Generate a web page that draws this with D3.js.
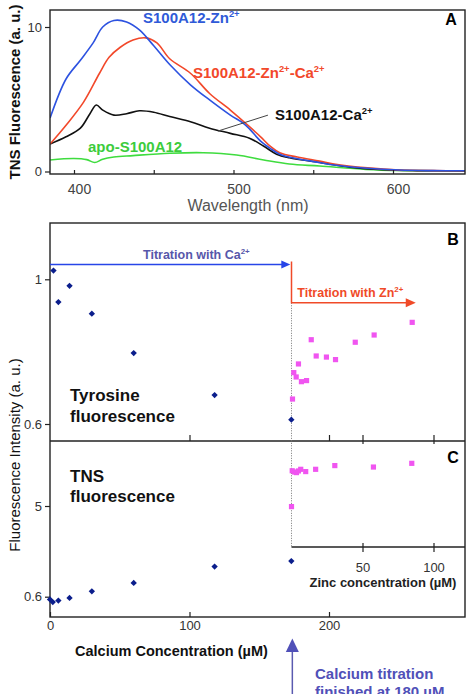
<!DOCTYPE html>
<html>
<head>
<meta charset="utf-8">
<script src="https://cdn.jsdelivr.net/npm/d3@7"></script>
<style>
  body { margin: 0; background: #fff; }
  svg { display: block; font-family: "Liberation Sans", Arial, sans-serif; }
</style>
</head>
<body>
<div id="chart"></div>
<script>
// ---- panel A : TNS spectra (wavelength nm, fluorescence a.u.)
const wlZn = [385, 395, 404, 412, 418, 425, 433, 441, 450, 460, 473, 485, 498, 506, 510, 517, 523, 529, 540, 554, 563, 584, 604, 625, 646];
const valZn = [3.7, 6.4, 7.7, 8.9, 10.0, 10.45, 10.35, 9.8, 8.7, 7.4, 6.0, 4.95, 3.9, 3.35, 2.95, 2.1, 1.6, 1.2, 0.88, 0.62, 0.45, 0.22, 0.1, 0.06, 0.05];

const wlZnCa = [385, 395, 406, 416, 422, 429, 437, 445, 452, 460, 473, 485, 498, 510, 517, 523, 529, 540, 554, 563, 584, 604, 625, 646];
const valZnCa = [1.9, 3.2, 4.8, 6.8, 7.9, 8.6, 9.1, 9.25, 8.9, 7.8, 6.8, 5.4, 4.25, 3.1, 2.4, 1.75, 1.3, 1.0, 0.72, 0.52, 0.25, 0.1, 0.06, 0.05];

const wlCa = [385, 395, 404, 410, 414, 418, 425, 433, 441, 450, 460, 473, 485, 498, 510, 519, 527, 535, 554, 573, 594, 615, 646];
const valCa = [1.9, 2.4, 3.0, 4.0, 4.6, 4.25, 3.9, 4.0, 4.2, 4.1, 3.8, 3.45, 3.0, 2.64, 2.3, 1.75, 1.2, 0.95, 0.62, 0.3, 0.12, 0.06, 0.04];

const wlApo = [385, 400, 408, 413, 418, 425, 437, 460, 481, 502, 519, 535, 554, 583, 604, 646];
const valApo = [0.8, 0.9, 0.82, 0.62, 0.85, 1.0, 1.1, 1.26, 1.3, 1.14, 0.8, 0.52, 0.38, 0.15, 0.07, 0.04];

const wlTicks = [400, 450, 500, 550, 600];
const tnsTicks = [0, 10];

// ---- panel B : tyrosine fluorescence
const caB = [2.5, 6, 14, 30, 60, 118, 173];
const tyrCa = [1.024, 0.937, 0.982, 0.905, 0.796, 0.68, 0.612];
const znB = [0.7, 1.6, 3.3, 4.9, 7, 10.6, 13.9, 17.4, 24.6, 31, 44.9, 58.2, 85];
const tyrZn = [0.669, 0.742, 0.730, 0.766, 0.717, 0.720, 0.833, 0.788, 0.785, 0.778, 0.826, 0.846, 0.881];
const tyrTicks = [0.6, 1];

// ---- panel C : TNS fluorescence
const caC = [0, 2, 6, 14, 30, 60, 118, 173];
const tnsCa = [0.47, 0.34, 0.41, 0.54, 0.86, 1.27, 2.06, 2.33];
const znC = [0, 0.5, 2.1, 3.5, 4.9, 6.5, 10, 17, 30.5, 57.7, 84.7];
const tnsZn = [4.97, 6.71, 6.65, 6.62, 6.70, 6.78, 6.67, 6.78, 6.96, 6.89, 7.07];
const tnsCTicks = [0.6, 5];

const caTicks = [0, 100, 200];
const znTicks = [50, 100];
const caEnd = 173;

const svg = d3.select('#chart').append('svg')
  .attr('width', 466)
  .attr('height', 694);

// superscript helper, parts = [[text, isSup], ...]
function label(x, y, parts, color, size) {
  let t = svg.append('text')
    .attr('x', x).attr('y', y)
    .style('font-weight', 'bold')
    .style('font-size', size + 'px')
    .style('fill', color);
  let up = false;
  parts.forEach(([s, sup]) => {
    let sp = t.append('tspan').text(s);
    if (sup && !up) { sp.attr('dy', -size * 0.4).style('font-size', (size * 0.63) + 'px'); up = true; }
    else if (sup) { sp.style('font-size', (size * 0.63) + 'px'); }
    else if (up) { sp.attr('dy', size * 0.4); up = false; }
  });
  return t;
}

function styleAxis(g, size, color) {
  g.select('.domain').remove();
  g.selectAll('line').attr('stroke', '#222').attr('stroke-width', 1.2);
  g.selectAll('text').style('font-size', size + 'px').style('fill', color).style('font-family', '"Liberation Sans", Arial, sans-serif');
}

// ================= PANEL A =================
const xA = d3.scaleLinear().domain([400, 600]).range([74, 393]);
const yA = d3.scaleLinear().domain([0, 10]).range([171.5, 27]);

svg.append('clipPath').attr('id', 'clipA')
  .append('rect').attr('x', 50).attr('y', 10).attr('width', 415).attr('height', 164);

let lineA = d3.line()
  .x((d) => xA(d[0]))
  .y((d) => yA(d[1]))
  .curve(d3.curveCatmullRom.alpha(0.5));

let spectra = [
  { wl: wlApo, v: valApo, color: '#3fdc3f' },
  { wl: wlCa, v: valCa, color: '#111111' },
  { wl: wlZnCa, v: valZnCa, color: '#f2482a' },
  { wl: wlZn, v: valZn, color: '#2d52e0' },
];

spectra.forEach((s) => {
  svg.append('path')
    .datum(s.wl.map((w, i) => [w, s.v[i]]))
    .attr('clip-path', 'url(#clipA)')
    .attr('fill', 'none')
    .attr('stroke', s.color)
    .attr('stroke-width', 1.6)
    .attr('d', lineA);
});

svg.append('rect')
  .attr('x', 50).attr('y', 10).attr('width', 415).attr('height', 164)
  .attr('fill', 'none').attr('stroke', '#222').attr('stroke-width', 1.4);

svg.append('g')
  .attr('transform', 'translate(50,0)')
  .call(d3.axisLeft(yA).tickValues(tnsTicks).tickSize(5).tickPadding(3))
  .call((g) => styleAxis(g, 13, '#333'));

svg.append('g')
  .attr('transform', 'translate(0,174)')
  .call(d3.axisBottom(xA).tickValues(wlTicks).tickSize(-4).tickPadding(10)
    .tickFormat((d) => (d % 100 === 0 ? d : '')))
  .call((g) => {
    styleAxis(g, 14, '#444');
    g.selectAll('text').attr('dx', 5);
  });

svg.append('text')
  .attr('x', 248).attr('y', 211)
  .attr('text-anchor', 'middle')
  .style('font-size', '16px').style('fill', '#555')
  .text('Wavelength (nm)');

svg.append('text')
  .attr('transform', 'translate(20,92) rotate(-90)')
  .attr('text-anchor', 'middle')
  .style('font-size', '15px').style('font-weight', 'bold').style('fill', '#111')
  .text('TNS Fluorescence (a. u.)');

svg.append('text')
  .attr('x', 451).attr('y', 25).attr('text-anchor', 'middle')
  .style('font-size', '16px').style('font-weight', 'bold')
  .text('A');

label(143, 23, [['S100A12-Zn', false], ['2+', true]], '#2f5ad8', 15);
label(193, 78, [['S100A12-Zn', false], ['2+', true], ['-Ca', false], ['2+', true]], '#f2482a', 15);
label(275, 120, [['S100A12-Ca', false], ['2+', true]], '#111', 15);
label(88, 152, [['apo-S100A12', false]], '#3ccc3c', 15);

// leader line for the Ca label
svg.append('line')
  .attr('x1', xA(521.6)).attr('y1', yA(3.9))
  .attr('x2', xA(490.3)).attr('y2', yA(2.8))
  .attr('stroke', '#444').attr('stroke-width', 1);

// ================= PANELS B + C =================
const xCa = d3.scaleLinear().domain([0, 200]).range([50, 329]);
const xZn = d3.scaleLinear().domain([0, 100]).range([291.5, 433.5]);
const yB = d3.scaleLinear().domain([0.6, 1]).range([424, 279.3]);
const yC = d3.scaleLinear().domain([0.6, 5]).range([596.7, 506]);

svg.append('rect')
  .attr('x', 50).attr('y', 223).attr('width', 415).attr('height', 394)
  .attr('fill', 'none').attr('stroke', '#222').attr('stroke-width', 1.4);

svg.append('line')
  .attr('x1', 50).attr('x2', 465).attr('y1', 441).attr('y2', 441)
  .attr('stroke', '#222').attr('stroke-width', 1.4);

// ticks on divider
svg.append('g').attr('transform', 'translate(0,441)')
  .call(d3.axisTop(xCa).tickValues([100, 200]).tickSize(6).tickFormat(''))
  .call((g) => styleAxis(g, 12, '#333'));
svg.append('g').attr('transform', 'translate(0,441)')
  .call(d3.axisTop(xZn).tickValues(znTicks).tickSize(6).tickFormat(''))
  .call((g) => styleAxis(g, 12, '#333'));
svg.append('g').attr('transform', 'translate(0,441)')
  .call(d3.axisBottom(xZn).tickValues(znTicks).tickSize(3).tickFormat(''))
  .call((g) => styleAxis(g, 12, '#333'));

// dotted separator
svg.append('line')
  .attr('x1', xZn(0)).attr('x2', xZn(0))
  .attr('y1', yB(0.935)).attr('y2', 547)
  .attr('stroke', '#777').attr('stroke-width', 1)
  .attr('stroke-dasharray', '1,1.5');

// zinc axis inside C
svg.append('line')
  .attr('x1', xZn(0)).attr('x2', 465).attr('y1', 547).attr('y2', 547)
  .attr('stroke', '#222').attr('stroke-width', 1.4);
svg.append('g').attr('transform', 'translate(0,547)')
  .call(d3.axisBottom(xZn).tickValues(znTicks).tickSize(5).tickPadding(11))
  .call((g) => styleAxis(g, 13, '#333'));
svg.append('g').attr('transform', 'translate(0,547)')
  .call(d3.axisTop(xZn).tickValues(znTicks).tickSize(4).tickFormat(''))
  .call((g) => styleAxis(g, 13, '#333'));

svg.append('text')
  .attr('x', 383).attr('y', 587).attr('text-anchor', 'middle')
  .style('font-size', '13px').style('font-weight', 'bold').style('fill', '#222')
  .text('Zinc concentration (µM)');

// calcium axis at bottom
svg.append('g').attr('transform', 'translate(0,617)')
  .call(d3.axisBottom(xCa).tickValues(caTicks).tickSize(-5).tickPadding(4))
  .call((g) => styleAxis(g, 13, '#333'));

svg.append('text')
  .attr('x', 75).attr('y', 656)
  .style('font-size', '14.5px').style('font-weight', 'bold').style('fill', '#111')
  .text('Calcium Concentration (µM)');

// y axes
svg.append('g').attr('transform', 'translate(50,0)')
  .call(d3.axisLeft(yB).tickValues(tyrTicks).tickSize(5).tickPadding(3).tickFormat((d) => d))
  .call((g) => styleAxis(g, 13, '#333'));
svg.append('g').attr('transform', 'translate(50,0)')
  .call(d3.axisLeft(yC).tickValues(tnsCTicks).tickSize(5).tickPadding(3).tickFormat((d) => d))
  .call((g) => styleAxis(g, 13, '#333'));

svg.append('text')
  .attr('transform', 'translate(20,455) rotate(-90)')
  .attr('text-anchor', 'middle')
  .style('font-size', '15px').style('fill', '#111')
  .text('Fluorescence Intensity (a. u.)');

// titration arrows
const blueY = yB(1.041);
svg.append('line')
  .attr('x1', xCa(0)).attr('x2', xCa(caEnd) - 8)
  .attr('y1', blueY).attr('y2', blueY)
  .attr('stroke', '#2745e8').attr('stroke-width', 1.5);
svg.append('path')
  .attr('d', d3.line()([[xCa(caEnd) - 1, blueY], [xCa(caEnd) - 10, blueY - 4], [xCa(caEnd) - 10, blueY + 4]]))
  .attr('fill', '#2745e8');

const redTop = yB(1.049), redY = yB(0.935), redTip = xZn(87.5);
svg.append('path')
  .attr('d', d3.line()([[xZn(0), redTop], [xZn(0), redY], [redTip - 8, redY]]))
  .attr('fill', 'none').attr('stroke', '#f04a28').attr('stroke-width', 1.5);
svg.append('path')
  .attr('d', d3.line()([[redTip, redY], [redTip - 10, redY - 4.5], [redTip - 10, redY + 4.5]]))
  .attr('fill', '#f04a28');

label(143, 259.3, [['Titration with Ca', false], ['2+', true]], '#5757aa', 12.5);
label(297.3, 296.7, [['Titration with Zn', false], ['2+', true]], '#f04a28', 12.5);

// points
const diamond = d3.symbol().type(d3.symbolSquare).size(20);
const square = d3.symbol().type(d3.symbolSquare).size(27);

function diamonds(xs, ys, yScale) {
  svg.append('g').selectAll('path')
    .data(xs.map((x, i) => [x, ys[i]]))
    .enter().append('path')
    .attr('d', diamond)
    .attr('transform', (d) => `translate(${xCa(d[0])},${yScale(d[1])}) rotate(45)`)
    .attr('fill', '#0b1e8c');
}
function squares(xs, ys, yScale) {
  svg.append('g').selectAll('path')
    .data(xs.map((x, i) => [x, ys[i]]))
    .enter().append('path')
    .attr('d', square)
    .attr('transform', (d) => `translate(${xZn(d[0])},${yScale(d[1])})`)
    .attr('fill', '#f055f0');
}
diamonds(caB, tyrCa, yB);
squares(znB, tyrZn, yB);
diamonds(caC, tnsCa, yC);
squares(znC, tnsZn, yC);

// panel labels and captions
svg.append('text').attr('x', 453).attr('y', 245).attr('text-anchor', 'middle')
  .style('font-size', '16px').style('font-weight', 'bold').text('B');
svg.append('text').attr('x', 453).attr('y', 463).attr('text-anchor', 'middle')
  .style('font-size', '16px').style('font-weight', 'bold').text('C');

[['Tyrosine', 401], ['fluorescence', 421.7], ['TNS', 481.7], ['fluorescence', 502.3]].forEach(([s, y]) => {
  svg.append('text').attr('x', 70).attr('y', y)
    .style('font-size', '17px').style('font-weight', 'bold').style('fill', '#111')
    .text(s);
});

// calcium end arrow
const upX = xCa(caEnd) + 1;
svg.append('line')
  .attr('x1', upX).attr('x2', upX).attr('y1', 650).attr('y2', 694)
  .attr('stroke', '#5a5ab0').attr('stroke-width', 1.5);
svg.append('path')
  .attr('d', d3.line()([[upX, 638.5], [upX - 6.5, 652], [upX + 6.5, 652]]))
  .attr('fill', '#5050b8');

svg.append('text').attr('x', 315).attr('y', 679)
  .style('font-size', '15px').style('font-weight', 'bold').style('fill', '#5050b8')
  .text('Calcium titration');
svg.append('text').attr('x', 315).attr('y', 697)
  .style('font-size', '15px').style('font-weight', 'bold').style('fill', '#5050b8')
  .text('finished at 180 µM');
</script>
</body>
</html>
